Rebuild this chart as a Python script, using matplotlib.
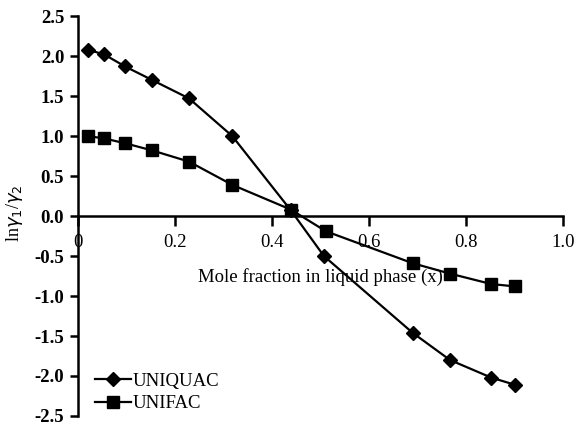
import matplotlib
matplotlib.use("Agg")
import matplotlib.pyplot as plt

x_uniquac = [0.02, 0.054, 0.097, 0.153, 0.229, 0.318, 0.439, 0.507, 0.690, 0.767, 0.852, 0.901]
y_uniquac = [2.08, 2.02, 1.87, 1.70, 1.47, 1.00, 0.07, -0.50, -1.46, -1.80, -2.02, -2.11]
x_unifac = [0.02, 0.054, 0.097, 0.153, 0.229, 0.318, 0.439, 0.511, 0.690, 0.767, 0.852, 0.901]
y_unifac = [1.00, 0.97, 0.91, 0.82, 0.68, 0.39, 0.08, -0.19, -0.59, -0.72, -0.85, -0.88]
xticks = [0, 0.2, 0.4, 0.6, 0.8, 1.0]
xticklabels = ["0", "0.2", "0.4", "0.6", "0.8", "1.0"]
yticks = [-2.5, -2.0, -1.5, -1.0, -0.5, 0.0, 0.5, 1.0, 1.5, 2.0, 2.5]

plt.rcParams['font.family'] = ['Liberation Serif', 'DejaVu Serif']
fig = plt.figure(figsize=(5.78, 4.30), dpi=100)
ax = fig.add_axes([0.135, 0.0326, 0.839, 0.930])

ax.plot(x_uniquac, y_uniquac, color='black', lw=1.6, marker='D', ms=7.5, label='UNIQUAC')
ax.plot(x_unifac, y_unifac, color='black', lw=1.6, marker='s', ms=9, label='UNIFAC')

ax.set_xlim(0, 1.0)
ax.set_ylim(-2.5, 2.5)
ax.spines['top'].set_visible(False)
ax.spines['right'].set_visible(False)
ax.spines['bottom'].set_position(('data', 0))
ax.spines['left'].set_linewidth(1.8)
ax.spines['bottom'].set_linewidth(1.8)

ax.set_xticks(xticks)
ax.set_xticklabels(xticklabels)
ax.set_yticks(yticks)
ax.set_yticklabels([f"{v:.1f}" for v in yticks], fontweight='bold')
ax.tick_params(axis='x', direction='out', length=7, width=1.8, pad=6, labelsize=13.5)
ax.tick_params(axis='y', direction='out', length=6, width=1.8, pad=4, labelsize=13.5)

ax.text(0.5, 0.3475, 'Mole fraction in liquid phase (x)', transform=ax.transAxes,
        ha='center', va='center', fontsize=13.5)
ax.text(-0.13, 0.507, r'ln$\gamma_1$/$\gamma_2$', transform=ax.transAxes,
        ha='center', va='center', rotation=90, fontsize=13)

ax.legend(loc='lower left', bbox_to_anchor=(0.02, -0.01), frameon=False,
          fontsize=13.5, handlelength=1.9, handletextpad=0.1, labelspacing=0.3,
          borderaxespad=0.0)

fig.savefig('out.png', dpi=100)
